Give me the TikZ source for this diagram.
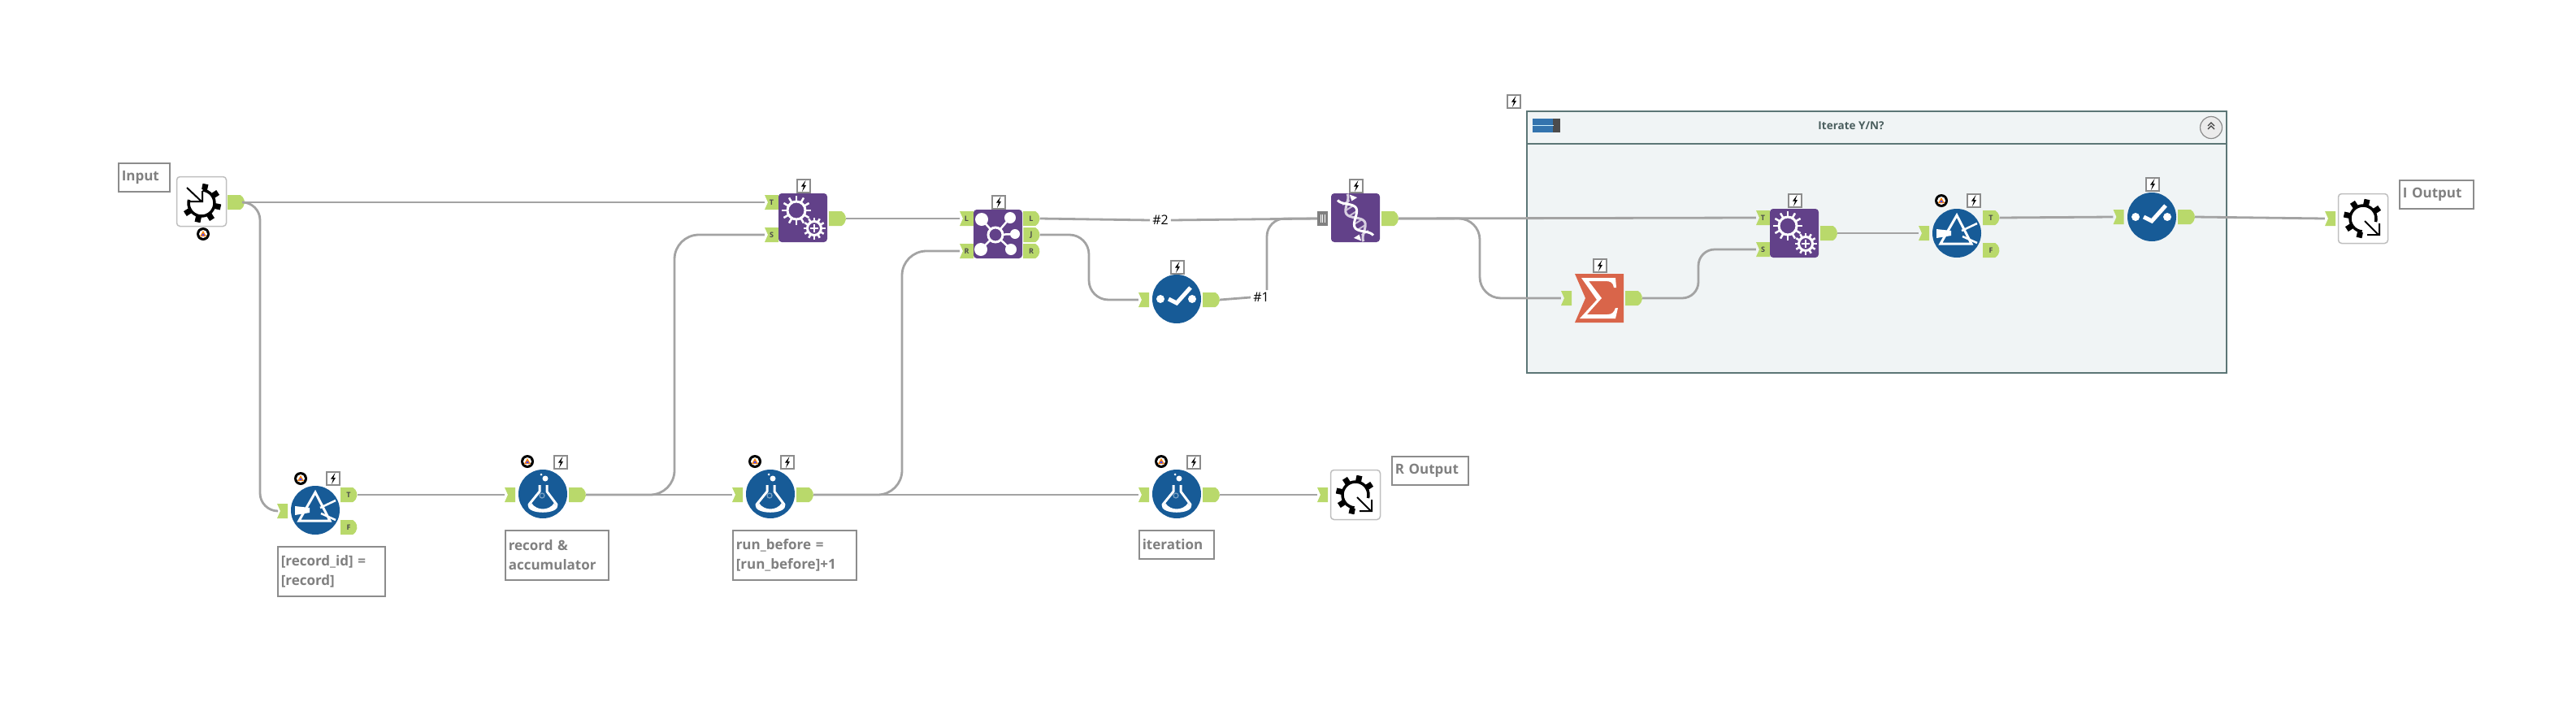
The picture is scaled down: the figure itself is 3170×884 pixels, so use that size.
\documentclass[tikz,border=0pt]{standalone}
\usepackage{fontspec}
\setmainfont{Open Sans}
\usepackage{xcolor}
\usetikzlibrary{shapes.misc}

\definecolor{toolblue}{HTML}{175B97}
\definecolor{toolpurple}{HTML}{624189}
\definecolor{toolorange}{HTML}{D9654A}
\definecolor{portgreen}{HTML}{B9D96B}
\definecolor{wiregray}{HTML}{A3A3A3}
\definecolor{notegray}{HTML}{8C8C8C}
\definecolor{notetext}{HTML}{808080}
\definecolor{boxfill}{HTML}{F0F4F5}
\definecolor{boxline}{HTML}{5C7676}

\tikzset{
    wire/.style={wiregray, line width=2.8pt},
    bend/.style={wire, rounded corners=#1},
    zig/.style={to path={-- (\tikztostart -| #1,0) -- (\tikztotarget -| #1,0) -- (\tikztotarget)}},
    notched/.style 2 args={rectangle, inner sep=0pt,
        path picture={
            \fill[#1] (path picture bounding box.north west) -- (path picture bounding box.north east)
                -- (path picture bounding box.south east) -- (path picture bounding box.south west)
                -- ([xshift=#2]path picture bounding box.west) -- cycle;
        }},
    inport/.style={notched={portgreen}{4pt}, minimum width=#1, minimum height=18pt,
        font=\fontsize{9}{9}\selectfont\bfseries, text=black!70},
    inport/.default=13pt,
    outport/.style={rounded rectangle, rounded rectangle left arc=none, rounded rectangle arc length=120,
        fill=portgreen, minimum width=#1, minimum height=18pt, inner sep=0pt,
        font=\fontsize{9}{9}\selectfont\bfseries, text=black!70},
    outport/.default=13pt,
    roundtool/.style={circle, fill=toolblue, minimum size=60pt, inner sep=0pt},
    squaretool/.style={rectangle, rounded corners=4pt, fill=toolpurple, minimum size=60pt, inner sep=0pt},
    iotool/.style={rectangle, rounded corners=4pt, fill=white, draw=black!25, line width=1.5pt, minimum size=61pt, inner sep=0pt},
    sumtool/.style={notched={toolorange}{13pt}, minimum size=60pt},
    note/.style={rectangle, anchor=north west, draw=notegray, fill=white, line width=1.5pt,
        text=notetext, inner xsep=4pt, inner ysep=3pt, align=left,
        font=\fontsize{17}{24}\selectfont\bfseries},
    wiretag/.style={fill=white, inner sep=3pt, font=\fontsize{16}{16}\selectfont, text=black},
    boltbox/.style={rectangle, draw=notegray, fill=white, line width=1.2pt, minimum size=16pt, inner sep=0pt,
        path picture={
            \fill[black, shift={(path picture bounding box.center)}]
                (2.5,-7) -- (-3,0.5) -- (0,0.5) -- (-2,7) -- (3,-1) -- (0.3,-1) -- cycle;
        }},
    badge/.style={circle, fill=black, minimum size=16pt, inner sep=0pt,
        path picture={
            \begin{scope}[shift={(path picture bounding box.center)}]
                \fill[white] (0,0) circle (5);
                \fill[orange] (0,-4) -- (4,3) -- (-4,3) -- cycle;
                \fill[blue!70] (0,-1) -- (2,2) -- (-2,2) -- cycle;
            \end{scope}
        }},
    unionport/.style={rectangle, fill=black!50, minimum width=13pt, minimum height=18pt, inner sep=0pt,
        path picture={
            \draw[white, line width=0.8pt, shift={(path picture bounding box.center)}]
                (-2.5,-5) -- (-2.5,5) (0,-5) -- (0,5) (2.5,-5) -- (2.5,5);
        }},
    % tool icons
    flask/.pic={
        \fill[white] (3,-19) circle (3.5);
        \fill[white] (-2,-24) circle (1.5);
        \draw[white, line width=3pt, line join=round] (-4,-11) -- (-4,-3) -- (-17,13)
            .. controls (-19,24) and (19,24) .. (17,13) -- (5,-3) -- (5,-11);
        \draw[toolblue!60!white, line width=1.3pt] (-1,2) circle (3);
        \fill[toolblue] (5,7) circle (1.5);
        \fill[white] (-14,11) .. controls (-8,21) and (8,21) .. (14,11) -- (16,16) .. controls (8,24) and (-8,24) .. (-16,16) -- cycle;
        \draw[toolblue, line width=3pt] (-11,11) .. controls (-5,17) and (5,17) .. (11,11);
    },
    prism/.pic={
        \draw[white, line width=3pt, line join=miter] (0,-22) -- (18,13) -- (-20,13) -- cycle;
        \fill[white] (-25,-5) -- (-7,-3) -- (-7,3) -- (-25,6) -- cycle;
        \draw[white, line width=2.5pt] (6,-3) -- (25,-12) (7,4) -- (25,12);
    },
    dotcheck/.pic={
        \fill[white] (-20,0) circle (5) (19,0) circle (5);
        \draw[white, line width=5pt] (-10,0) -- (0,5) -- (17,-14);
    },
    gears/.pic={
        \whitecog{-8}{-9}{11}{7}
        \whitecog{14}{13}{8.5}{5}
        \draw[white, line width=2pt] (9,13) -- (19,13) (14,8) -- (14,18);
    },
    hub/.pic={
        \draw[white, line width=2.5pt] (-20,-18) -- (-3,1) (15,-20) -- (-3,1) (21,0) -- (-3,1) (-21,19) -- (-3,1) (16,19) -- (-3,1);
        \fill[white] (-20,-18) circle (8) (15,-20) circle (7) (21,0) circle (6) (-21,19) circle (8) (16,19) circle (7);
        \draw[white, fill=toolpurple, line width=3pt] (-3,1) circle (9);
    },
    helix/.pic={
        \begin{scope}[rotate=-58]
            \foreach \r in {-22,-14,-6,6,14,22} \draw[white!65!toolpurple, line width=2pt] (\r,-5) -- (\r,5);
            \draw[white!75!toolpurple, line width=3pt] plot[smooth, domain=-30:30, samples=31] (\x,{-7*sin(\x*9)});
            \draw[white, line width=3pt] plot[smooth, domain=-30:30, samples=31] (\x,{7*sin(\x*9)});
            \fill[white] (-28,-9) -- (-20,-15) -- (-20,-7) -- cycle;
            \fill[white] (28,9) -- (20,15) -- (20,7) -- cycle;
        \end{scope}
    },
    sigma/.pic={
        \fill[white] (-22,-25) -- (20,-25) -- (21,-13) -- (18,-13) .. controls (17,-19) and (14,-21) .. (8,-21)
            -- (-13,-21) -- (3,0) -- (-15,20) -- (10,20) .. controls (15,20) and (18,18) .. (20,12) -- (23,12)
            -- (20,25) -- (-24,25) -- (-3,2) -- cycle;
    },
    cogring/.pic={
        \draw[black, line width=3.5pt] plot[smooth, domain=-85:195, samples=25] (\x:16);
        \foreach \a in {-78,-33,12,57,102,147} \draw[black, line width=7pt] (\a:17) -- (\a:24);
    },
    cogin/.pic={
        \pic at (0,2) {cogring};
        \draw[black, line width=2pt] (-18,-17) -- (0,0) (-15,0) -- (1,0) -- (1,-13);
    },
    cogout/.pic={
        \pic[rotate=180] at (0,0) {cogring};
        \draw[black, line width=2pt] (2,3) -- (19,20) (5,20) -- (20,20) -- (20,6);
    },
}

\newcommand{\whitecog}[4]{%
    \draw[white, line width=3pt] (#1,#2) circle (#3);
    \foreach \a in {0,30,...,330}
    \draw[white, line width=2.5pt, shift={(#1,#2)}] (\a:#3) -- (\a:#3+#4);
}

\begin{document}
\begin{tikzpicture}[x=1pt,y=-1pt]
    \path[use as bounding box] (0,0) rectangle (3170,884);

    % container
    \node[rectangle, draw=boxline, fill=boxfill, line width=2pt, minimum width=861pt, minimum height=322pt, inner sep=0pt] (iterbox) at (2309.5,298) {};
    \draw[boxline, line width=2pt] (iterbox.west |- 0,177) -- (iterbox.east |- 0,177);
    \node[font=\fontsize{13.5}{14}\selectfont\bfseries, text=boxline!80!black, inner sep=0pt] (itertitle) at (2278,155) {Iterate Y/N?};
    \node[rectangle, fill=cyan!60!blue!80!black, minimum width=26pt, minimum height=17pt, inner sep=0pt] (iterflag) at (1899,154.5) {};
    \node[rectangle, fill=black!70, minimum width=9pt, minimum height=17pt, inner sep=0pt] (iterflagend) at (1915.5,154.5) {};
    \draw[white!80!cyan, line width=1.5pt] (iterflag.west) -- (iterflag.east);
    \node[circle, draw=black!45, fill=black!8, line width=1.2pt, minimum size=27pt, inner sep=0pt] (itercollapse) at (2721,157) {};
    \draw[black!75, line width=1.3pt] (2717,159) -- (2721,155) -- (2725,159) (2717,155) -- (2721,151) -- (2725,155);

    % connectors
    \node[inport=17pt] (inappt) at (949.5,249) {T};
    \node[inport=17pt] (inapps) at (949.5,289) {S};
    \node[inport=17pt] (injoinl) at (1189.5,269) {L};
    \node[inport=17pt] (injoinr) at (1189.5,309) {R};
    \node[inport=17pt] (inapptt) at (2169.5,268) {T};
    \node[inport=17pt] (inappts) at (2169.5,307) {S};
    \foreach \name/\x/\y in {filtone/347.5/629, flaskone/627.5/609, flasktwo/907.5/609, flaskthree/1407.5/609, rout/1627.5/609, selone/1407.5/369, sumone/1927.5/367, filttwo/2367.5/287, seltwo/2607/267, iou/2867.5/269}
    \node[inport] (in\name) at (\x,\y) {};
    \foreach \name/\x/\y in {inp/290.5/249, flaskone/710.5/609, flasktwo/990.5/609, flaskthree/1490.5/609, appone/1030.5/269, selone/1490.5/369, unionone/1710.5/269, sumone/2010.5/367, apptwo/2250.5/287, seltwo/2690.5/267}
    \node[outport] (out\name) at (\x,\y) {};
    \foreach \name/\x/\y/\tag in {oft/429/609/T, off/429/649/F, ojl/1269/269/L, ojj/1269/289/J, ojr/1269/309/R, ott/2450/268/T, otf/2450/308/F}
    \node[outport=16pt] (out\name) at (\x,\y) {\tag};
    \node[unionport] (inunion) at (1627.5,269) {};
    \node[wiretag] (tagtwo) at (1428,271) {\#2};
    \node[wiretag] (tagone) at (1552,366) {\#1};

    \draw[wire] (outinp.east) -- (inappt.west);
    \draw[bend=22pt, zig=320] (outinp.east) to (infiltone.west);
    \draw[wire] (outoft.east) -- (inflaskone.west);
    \draw[wire] (outflaskone.east) -- (inflasktwo.west);
    \draw[wire] (outflasktwo.east) -- (inflaskthree.west);
    \draw[wire] (outflaskthree.east) -- (inrout.west);
    \draw[bend=30pt, zig=830] (outflaskone.east) to (inapps.west);
    \draw[bend=30pt, zig=1110] (outflasktwo.east) to (injoinr.west);
    \draw[wire] (outappone.east) -- (injoinl.west);
    \draw[wire] (outojl.east) -- (tagtwo.west);
    \draw[wire] (tagtwo.east) -- (inunion.west);
    \draw[bend=24pt, zig=1340] (outojj.east) to (inselone.west);
    \draw[wire] (outselone.east) -- (tagone.west);
    \draw[bend=22pt] ([xshift=7pt]tagone.north) |- (inunion.west);
    \draw[wire] (outunionone.east) -- (inapptt.west);
    \draw[bend=26pt, zig=1821] (outunionone.east) to (insumone.west);
    \draw[bend=20pt, zig=2090] (outsumone.east) to (inappts.west);
    \draw[wire] (outapptwo.east) -- (infilttwo.west);
    \draw[wire] (outott.east) -- (inseltwo.west);
    \draw[wire] (outseltwo.east) -- (iniou.west);

    % tools
    \node[iotool] (inputtool) at (248,248) {};
    \node[iotool] (routtool) at (1668,609) {};
    \node[iotool] (ioutool) at (2908,269) {};
    \foreach \name/\x/\y in {filtone/388/628, flaskone/668/608, flasktwo/948/608, flaskthree/1448/608, selone/1448/368, filttwo/2408/287, seltwo/2648/267}
    \node[roundtool] (\name) at (\x,\y) {};
    \foreach \name/\x/\y in {appone/988/268, joinone/1228/288, unionone/1668/268, apptwo/2208/287}
    \node[squaretool] (\name) at (\x,\y) {};
    \node[sumtool] (sumone) at (1968,367) {};

    % icons
    \pic at (inputtool) {cogin};
    \pic at (routtool) {cogout};
    \pic at (ioutool) {cogout};
    \pic at (filtone) {prism};
    \pic at (filttwo) {prism};
    \pic at (flaskone) {flask};
    \pic at (flasktwo) {flask};
    \pic at (flaskthree) {flask};
    \pic at (selone) {dotcheck};
    \pic at (seltwo) {dotcheck};
    \pic at (appone) {gears};
    \pic at (apptwo) {gears};
    \pic at (joinone) {hub};
    \pic at (unionone) {helix};
    \pic at (sumone) {sigma};

    % notes
    \node[note, text width=55pt, minimum height=35pt] (noteinput) at (145,200) {Input};
    \node[note, text width=124pt, minimum height=61pt] (notefilt) at (341,672) {[record\_id] =\\ {}[record]};
    \node[note, text width=119pt, minimum height=61pt] (noteacc) at (621,652) {record \&\\ accumulator};
    \node[note, text width=144pt, minimum height=61pt] (noterun) at (901,652) {run\_before =\\ {}[run\_before]+1};
    \node[note, text width=84pt, minimum height=35pt] (noteiter) at (1401,652) {iteration};
    \node[note, text width=86pt, minimum height=35pt] (noterout) at (1712,561) {R Output};
    \node[note, text width=83pt, minimum height=35pt] (noteiout) at (2952,221) {I Output};

    % run markers
    \foreach \x/\y in {250/288, 370/589, 649/568, 929/568, 1429/568, 2389/247}
    \node[badge] (badge\x) at (\x,\y) {};
    \foreach \x/\y in {410/589, 690/569, 969/569, 1469/569, 989/229, 1229/249, 1669/229, 1449/329, 1863/125, 1969/327, 2209/247, 2429/247, 2649/227}
    \node[boltbox] (bolt\x) at (\x,\y) {};
\end{tikzpicture}
\end{document}
